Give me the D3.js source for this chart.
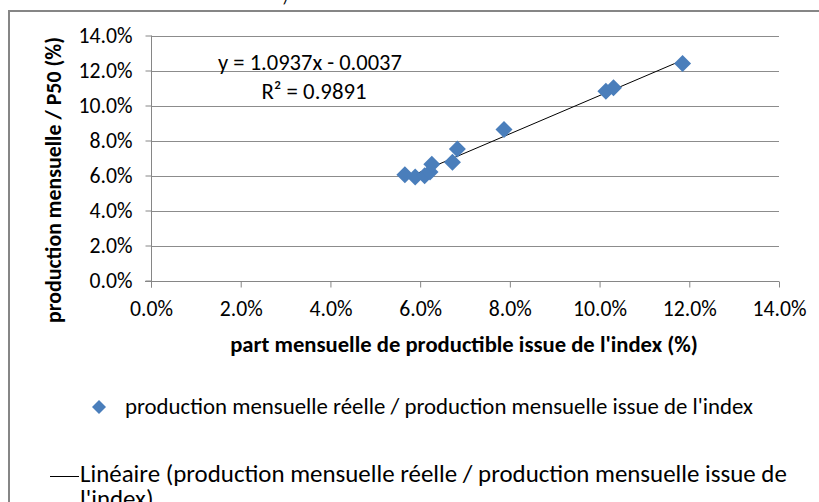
<!DOCTYPE html>
<html><head><meta charset="utf-8">
<script src="https://cdn.jsdelivr.net/npm/d3@7"></script>
<style>
html,body{margin:0;padding:0;background:#fff;overflow:hidden;}
svg{display:block;}
text{font-family:Carlito,Calibri,"Liberation Sans",Arial,sans-serif;fill:#000;}
</style></head>
<body>
<svg id="chart" width="819" height="502"></svg>
<script>
// ---- data ----
const xValues = [0.0566, 0.0589, 0.0610, 0.0622, 0.0626, 0.0672, 0.0683, 0.0787, 0.1014, 0.1031, 0.1185];
const yValues = [0.0605, 0.0592, 0.0598, 0.0620, 0.0665, 0.0676, 0.0752, 0.0863, 0.1082, 0.1102, 0.1240];
const tickValues = [0, 0.02, 0.04, 0.06, 0.08, 0.10, 0.12, 0.14];
const trendSlope = 1.0937;
const trendIntercept = -0.0037;
const equationLabel = "y = 1.0937x - 0.0037";
const r2Label = "R² = 0.9891";
const xTitle = "part mensuelle de productible issue de l'index (%)";
const yTitle = "production mensuelle / P50 (%)";
const seriesName = "production mensuelle réelle / production mensuelle issue de l'index";
const trendNameLine1 = "Linéaire (production mensuelle réelle / production mensuelle issue de";
const trendNameLine2 = "l'index)";

const svg = d3.select("#chart");
const fmt = d3.format(".1%");

function fitSize(text, fs, w, weight) {
  const t = svg.append("text").attr("font-size", fs).attr("font-weight", weight || null).text(text);
  const len = t.node().getComputedTextLength();
  t.remove();
  return len > 0 ? fs * w / len : fs;
}
function fit(sel, w) {
  const n = sel.node();
  const fs = parseFloat(sel.attr("font-size"));
  const len = n.getComputedTextLength();
  if (len > 0) sel.attr("font-size", (fs * w / len).toFixed(2));
  return sel;
}

// clipped title fragment at top
svg.append("text").attr("x", 287).attr("y", 4).attr("font-size", 18).attr("text-anchor", "middle").text("/");

// chart border
svg.append("rect").attr("x", 9).attr("y", 11).attr("width", 830).attr("height", 520)
  .attr("fill", "#fff").attr("stroke", "#868686").attr("stroke-width", 2);

const x = d3.scaleLinear().domain([0, 0.14]).range([151, 779]);
const y = d3.scaleLinear().domain([0, 0.14]).range([280.5, 35.5]);

const tickFs = fitSize("14.0%", 20, 54);

// gridlines
svg.append("g").selectAll("line").data(tickValues.slice(1)).join("line")
  .attr("x1", x(0)).attr("x2", x(0.14))
  .attr("y1", d => Math.round(y(d)) + 0.5).attr("y2", d => Math.round(y(d)) + 0.5)
  .attr("stroke", "#8c8c8c").attr("stroke-width", 1);

// y axis
const yAxis = svg.append("g").attr("transform", `translate(${x(0)+0.5},0)`)
  .call(d3.axisLeft(y).tickValues(tickValues).tickFormat(fmt).tickSize(6).tickPadding(13));
yAxis.select(".domain").attr("stroke", "#868686").attr("d", `M0,${y(0.14)}V${y(0)+7}`);
yAxis.selectAll(".tick line").attr("stroke", "#868686");
yAxis.selectAll(".tick text").attr("font-size", tickFs).attr("font-family", null).attr("fill", "#000");

// x axis
const xAxis = svg.append("g").attr("transform", `translate(0,${Math.round(y(0))+0.5})`)
  .call(d3.axisBottom(x).tickValues(tickValues).tickFormat(fmt).tickSize(6).tickPadding(13));
xAxis.select(".domain").attr("stroke", "#868686").attr("d", `M${x(0)-6},0H${x(0.14)}`);
xAxis.selectAll(".tick line").attr("stroke", "#868686");
xAxis.selectAll(".tick text").attr("font-size", tickFs).attr("font-family", null).attr("fill", "#000");

// trendline
const xmin = d3.min(xValues), xmax = d3.max(xValues);
svg.append("line")
  .attr("x1", x(xmin)).attr("y1", y(trendSlope * xmin + trendIntercept))
  .attr("x2", x(xmax)).attr("y2", y(trendSlope * xmax + trendIntercept))
  .attr("stroke", "#000").attr("stroke-width", 1);

// markers
const pts = xValues.map((v, i) => ({x: v, y: yValues[i]}));
const diamond = "M0,-8.5L8.5,0L0,8.5L-8.5,0Z";
svg.append("g").selectAll("path").data(pts).join("path")
  .attr("d", diamond)
  .attr("transform", d => `translate(${x(d.x)},${y(d.y)})`)
  .attr("fill", "#4A7EBB");

// trendline label
fit(svg.append("text").attr("x", 310).attr("y", 70).attr("text-anchor", "middle").attr("font-size", 19).text(equationLabel), 184);
fit(svg.append("text").attr("x", 314).attr("y", 99).attr("text-anchor", "middle").attr("font-size", 19).text(r2Label), 105);

// axis titles
fit(svg.append("text").attr("x", 464).attr("y", 352).attr("text-anchor", "middle").attr("font-size", 19).attr("font-weight", "bold").text(xTitle), 468);
fit(svg.append("text").attr("transform", "translate(61,180) rotate(-90)").attr("text-anchor", "middle").attr("font-size", 19).attr("font-weight", "bold").text(yTitle), 286);

// legend
svg.append("path").attr("d", "M0,-7L7,0L0,7L-7,0Z").attr("transform", "translate(99,407)").attr("fill", "#4A7EBB");
fit(svg.append("text").attr("x", 125).attr("y", 414).attr("font-size", 19).text(seriesName), 628);
svg.append("line").attr("x1", 50).attr("x2", 79).attr("y1", 476.5).attr("y2", 476.5).attr("stroke", "#000").attr("stroke-width", 1);
const lg2 = fit(svg.append("text").attr("x", 80).attr("y", 482).attr("font-size", 19).text(trendNameLine1), 707);
svg.append("text").attr("x", 80).attr("y", 507).attr("font-size", lg2.attr("font-size")).text(trendNameLine2);
</script>
</body></html>
